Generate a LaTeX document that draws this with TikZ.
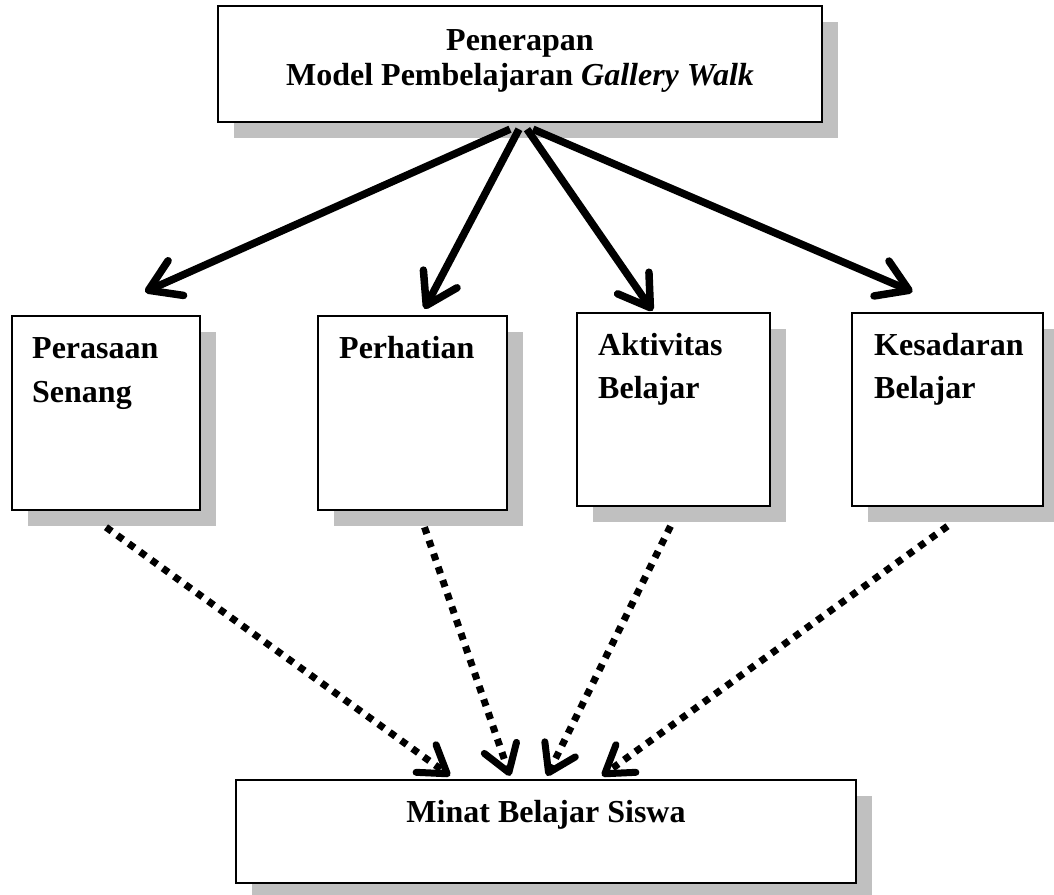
\documentclass[tikz,border=0pt]{standalone}
\usepackage{fontspec}
\setmainfont{Liberation Serif}
\usetikzlibrary{arrows.meta,shadows,calc}
\definecolor{shadowgray}{HTML}{C0C0C0}
\begin{document}
\begin{tikzpicture}[x=1pt,y=-1pt,
  box/.style={draw=black, line width=2.4pt, fill=white, inner sep=0pt,
    drop shadow={shadow xshift=16pt, shadow yshift=-16pt, fill=shadowgray, opacity=1}},
  txt/.style={font=\fontsize{32}{44}\selectfont\bfseries, inner sep=0pt},
  solidarrow/.style={line width=7.5pt, -{Straight Barb[length=30pt,width=38pt,round]}},
  dotarrow/.style={line width=7pt, dash pattern=on 7pt off 7pt, -{Straight Barb[length=26pt,width=34pt,round]}}]
\useasboundingbox (0,0) rectangle (1054,894);
% boxes
\node[box, minimum width=604pt, minimum height=116pt] (top) at (520,64) {};
\node[box, minimum width=188pt, minimum height=194pt] (p1) at (106,413) {};
\node[box, minimum width=189pt, minimum height=194pt] (p2) at (412.5,413) {};
\node[box, minimum width=193pt, minimum height=193pt] (p3) at (673.5,409.5) {};
\node[box, minimum width=191pt, minimum height=193pt] (p4) at (947.5,409.5) {};
\node[box, minimum width=620pt, minimum height=103pt] (bot) at (546,831.5) {};
% texts
\node[txt, anchor=base] (tA) at (520,50) {Penerapan};
\node[txt, anchor=base] (tB) at (520,85) {Model Pembelajaran \textit{Gallery Walk}};
\node[txt, anchor=base west] (l1a) at (32,358) {Perasaan};
\node[txt, anchor=base west] (l1b) at (32,402) {Senang};
\node[txt, anchor=base west] (l2) at (339,358) {Perhatian};
\node[txt, anchor=base west] (l3a) at (598,355) {Aktivitas};
\node[txt, anchor=base west] (l3b) at (598,398) {Belajar};
\node[txt, anchor=base west] (l4a) at (874,355) {Kesadaran};
\node[txt, anchor=base west] (l4b) at (874,398) {Belajar};
\node[txt, anchor=base] (l5) at (546,822) {Minat Belajar Siswa};
% solid arrows
\coordinate (s1) at ($(top.south)+(-10,6)$);
\coordinate (s2) at ($(top.south)+(-1,6)$);
\coordinate (s3) at ($(top.south)+(7,6)$);
\coordinate (s4) at ($(top.south)+(13,6)$);
\coordinate (e1) at ($(p1.north)+(39,-23)$);
\coordinate (e2) at ($(p2.north)+(12,-6)$);
\coordinate (e3) at ($(p3.north)+(-21,-1)$);
\coordinate (e4) at ($(p4.north)+(-35,-20)$);
\draw[solidarrow] (s1) -- (e1);
\draw[solidarrow] (s2) -- (e2);
\draw[solidarrow] (s3) -- (e3);
\draw[solidarrow] (s4) -- (e4);
% dotted arrows
\coordinate (d1) at ($(p1.south)+(0,16)$);
\coordinate (d2) at ($(p2.south)+(12,16)$);
\coordinate (d3) at ($(p3.south)+(-3,19)$);
\coordinate (d4) at ($(p4.south)+(0,19)$);
\coordinate (f1) at ($(bot.north)+(-96,-3)$);
\coordinate (f2) at ($(bot.north)+(-36,-3)$);
\coordinate (f3) at ($(bot.north)+(1,-3)$);
\coordinate (f4) at ($(bot.north)+(56,-3)$);
\draw[dotarrow] (d1) -- (f1);
\draw[dotarrow] (d2) -- (f2);
\draw[dotarrow] (d3) -- (f3);
\draw[dotarrow] (d4) -- (f4);
\end{tikzpicture}
\end{document}
